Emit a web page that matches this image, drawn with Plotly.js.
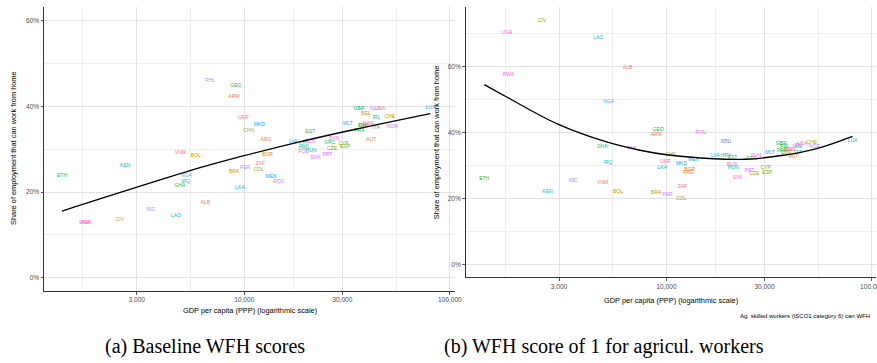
<!DOCTYPE html>
<html><head><meta charset="utf-8">
<script src="https://cdn.plot.ly/plotly-3.0.1.min.js"></script>
<style>html,body{margin:0;padding:0;background:#fff}#chart{width:877px;height:363px}</style>
</head><body><div id="chart"></div>
<script>
// Country codes (alphabetical -> colour order)
const countries = ["ALB","ARG","ARM","AUT","BEL","BGR","BOL","BRA","CHE","CHN","CIV","COL","CYP","CZE","DNK","ESP","EST","ETH","FIN","FRA","GBR","GEO","GHA","GRC","HRV","HUN","IRL","IRQ","ITA","KEN","LAO","LKA","LTU","LUX","LVA","MEX","MKD","MLT","NGA","NIC","NLD","NOR","PER","PHL","POL","PRT","ROU","RUS","RWA","SVK","SVN","SWE","UGA","UKR","USA","VNM","ZAF"];
// GDP per capita (PPP)
const gdp = [6467,12760,8903,41460,39120,12980,5807,8918,50990,10530,2483,11780,30400,26730,38250,30910,20970,1299,37400,36380,36150,9104,4863,26020,19450,21110,43910,5192,43750,2637,4649,9537,19530,80400,17310,13520,11830,31920,5238,3515,43250,52450,10110,6832,19360,25370,14740,20820,1697,22210,27290,40160,1675,9886,45850,4890,11960];
// Share of employment that can work from home, baseline (%)
const wfhBase = [17.44,32.15,42.19,32.15,38.38,28.65,28.41,24.68,37.59,34.25,13.47,25.15,31.38,30.12,35.42,30.59,34.02,23.75,35.42,34.32,39.39,44.76,21.41,31.61,30.28,29.75,37.36,22.51,35.11,26.08,14.41,20.94,31.29,39.79,31.68,23.68,35.65,35.89,23.91,15.81,39.39,35.26,25.61,45.93,29.51,28.72,22.34,31.68,12.77,27.95,32.45,35.89,12.77,37.29,39.39,29.28,26.62];
// Share of employment that can work from home, agricultural workers WFH = 1 (%)
const wfhAg = [59.8,27.67,39.48,32.52,34.94,28.79,22.12,21.6,36.85,33.42,74.03,19.88,29.48,27.36,33.73,27.76,32.3,25.85,35.64,34.42,36.76,41.0,35.64,32.12,32.82,29.39,36.15,30.91,33.82,21.91,68.88,29.39,37.15,37.58,32.82,31.61,30.61,33.94,49.48,25.24,35.64,35.85,21.0,35.24,37.15,28.27,40.09,30.39,57.67,26.15,33.12,34.64,70.39,31.21,36.76,24.64,23.42];
// Fitted curves
const fitBaseGdp = [1299,6095,9534,17330,35240,80400];
const fitBaseVal = [15.57,25.68,28.25,31.38,34.72,38.3];
const fitAgGdp = [1299,1669,2923,5118,7433,10025,16900,24110,37030,53830,80400];
const fitAgVal = [54.55,50.79,42.73,37.15,34.64,33.27,32.06,31.91,33.12,35.15,38.88];
// Tick labels
const xTickVals = [3000,10000,30000,100000];
const xTickText = ["3,000","10,000","30,000","100,000"];
const xMinorVals = [1643,5477,17320,54770];
const yTickVals = [0,20,40,60];
const yTickText = ["0%","20%","40%","60%"];

// ggplot2 hue palette (HCL, c=100, l=65)
function hcl(h,c,l){
  const hr=h*Math.PI/180, U=c*Math.cos(hr), V=c*Math.sin(hr);
  const Xn=95.047,Yn=100,Zn=108.883;
  const un=4*Xn/(Xn+15*Yn+3*Zn), vn=9*Yn/(Xn+15*Yn+3*Zn);
  const Y = l>8 ? Yn*Math.pow((l+16)/116,3) : Yn*l/903.3;
  const u=U/(13*l)+un, v=V/(13*l)+vn;
  const X=Y*9*u/(4*v), Z=Y*(12-3*u-20*v)/(4*v);
  const x=X/100,y=Y/100,z=Z/100;
  let rgb=[3.2406*x-1.5372*y-0.4986*z,-0.9689*x+1.8758*y+0.0415*z,0.0557*x-0.2040*y+1.0570*z];
  rgb=rgb.map(t=>{t=t<=0.0031308?12.92*t:1.055*Math.pow(t,1/2.4)-0.055;return Math.round(Math.max(0,Math.min(1,t))*255);});
  return "#"+rgb.map(t=>t.toString(16).padStart(2,"0")).join("");
}
const n = countries.length;
const colors = countries.map((_,i)=>hcl(15+360*i/n,100,65));

const W=877,H=363;
const fx=p=>p/W, fy=p=>1-p/H;
const sans="Liberation Sans, Arial, sans-serif";
const tickFont={family:sans,size:6.6,color:"#4D4D4D"};
const grid="#E3E3E3";

function xax(dom,rng,anchor){return {type:"log",domain:dom,range:rng,anchor:anchor,tickmode:"array",tickvals:xTickVals,ticktext:xTickText,
  showline:true,linecolor:"#333",linewidth:1,ticks:"outside",ticklen:2.5,tickcolor:"#333",tickwidth:0.8,tickfont:tickFont,
  ticklabeloverflow:"allow",
  showgrid:true,gridcolor:grid,gridwidth:1,zeroline:false,
  minor:{tickmode:"array",tickvals:xMinorVals,showgrid:true,gridcolor:"#EBEBEB",gridwidth:0.8,ticks:""}};}
function yax(dom,rng,anchor,minor){return {domain:dom,range:rng,anchor:anchor,tickmode:"array",tickvals:yTickVals,ticktext:yTickText,
  showline:true,linecolor:"#333",linewidth:1,ticks:"outside",ticklen:2.5,tickcolor:"#333",tickwidth:0.8,tickfont:tickFont,
  showgrid:true,gridcolor:grid,gridwidth:1,zeroline:false,
  minor:{tickmode:"array",tickvals:minor,showgrid:true,gridcolor:"#EBEBEB",gridwidth:0.8,ticks:""}};}

const data=[
  {type:"scatter",mode:"text",x:gdp,y:wfhBase,text:countries,textposition:"middle center",
   textfont:{family:sans,size:5,color:colors},xaxis:"x",yaxis:"y",hoverinfo:"skip",cliponaxis:true},
  {type:"scatter",mode:"lines",x:fitBaseGdp,y:fitBaseVal,line:{color:"#000",width:1.3,shape:"spline"},xaxis:"x",yaxis:"y",hoverinfo:"skip"},
  {type:"scatter",mode:"text",x:gdp,y:wfhAg,text:countries,textposition:"middle center",
   textfont:{family:sans,size:5,color:colors},xaxis:"x2",yaxis:"y2",hoverinfo:"skip",cliponaxis:true},
  {type:"scatter",mode:"lines",x:fitAgGdp,y:fitAgVal,line:{color:"#000",width:1.3,shape:"spline"},xaxis:"x2",yaxis:"y2",hoverinfo:"skip"}
];

const titleFont={family:sans,size:7.4,color:"#000"};
const capFont={family:"Liberation Serif, Times New Roman, serif",size:20,color:"#000"};
const layout={
  width:W,height:H,margin:{l:0,r:0,t:0,b:0},paper_bgcolor:"#fff",plot_bgcolor:"rgba(0,0,0,0)",showlegend:false,
  xaxis:xax([fx(44),fx(455)],[3.026,5.025],"y"),
  yaxis:yax([fy(291),fy(7)],[-3.1,63.2],"x",[10,30,50]),
  xaxis2:xax([fx(465.7),fx(876)],[3.023,5.0196],"y2"),
  yaxis2:yax([fy(277.3),fy(7.3)],[-3.9,78],"x2",[10,30,50,70]),
  annotations:[
    {xref:"paper",yref:"paper",x:fx(249.5),y:fy(310),text:"GDP per capita (PPP) (logarithmic scale)",showarrow:false,font:titleFont,xanchor:"center",yanchor:"middle"},
    {xref:"paper",yref:"paper",x:fx(670.8),y:fy(300),text:"GDP per capita (PPP) (logarithmic scale)",showarrow:false,font:titleFont,xanchor:"center",yanchor:"middle"},
    {xref:"paper",yref:"paper",x:fx(13),y:fy(148),text:"Share of employment that can work from home",textangle:-90,showarrow:false,font:titleFont,xanchor:"center",yanchor:"middle"},
    {xref:"paper",yref:"paper",x:fx(436),y:fy(142.3),text:"Share of employment that can work from home",textangle:-90,showarrow:false,font:titleFont,xanchor:"center",yanchor:"middle"},
    {xref:"paper",yref:"paper",x:fx(872),y:fy(315.5),text:"Ag. skilled workers (ISCO1 category 6) can WFH",showarrow:false,font:{family:sans,size:6,color:"#000"},xanchor:"right",yanchor:"middle"},
    {xref:"paper",yref:"paper",x:fx(205),y:fy(346),text:"(a) Baseline WFH scores",showarrow:false,font:capFont,xanchor:"center",yanchor:"middle"},
    {xref:"paper",yref:"paper",x:fx(604),y:fy(346),text:"(b) WFH score of 1 for agricul. workers",showarrow:false,font:capFont,xanchor:"center",yanchor:"middle"}
  ]
};
Plotly.newPlot("chart",data,layout,{staticPlot:true,displayModeBar:false});
</script></body></html>
